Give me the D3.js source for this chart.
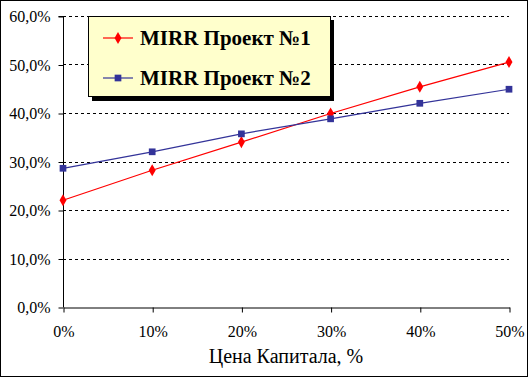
<!DOCTYPE html>
<html>
<head>
<meta charset="utf-8">
<script src="https://cdn.jsdelivr.net/npm/d3@7"></script>
</head>
<body style="margin:0">
<script>
// chart data
const categories = ["0%", "10%", "20%", "30%", "40%", "50%"];
const project1 = [22.0, 28.2, 34.0, 39.9, 45.4, 50.5];
const project2 = [28.6, 32.0, 35.7, 38.8, 42.0, 44.9];
const yTicks = [0, 10, 20, 30, 40, 50, 60];
const seriesNames = ["MIRR Проект №1", "MIRR Проект №2"];
const xTitle = "Цена Капитала, %";

const width = 528, height = 377;
const margin = {top: 16, bottom: 70, left: 63, right: 19};
const FONT = '"Times New Roman"';

const svg = d3.select("body").append("svg")
  .attr("width", width)
  .attr("height", height);

// outer frame
svg.append("rect")
  .attr("x", 0.5).attr("y", 0.5)
  .attr("width", width - 1).attr("height", height - 1)
  .attr("fill", "#fff").attr("stroke", "#000");

const xScale = d3.scalePoint().domain(categories).range([margin.left, width - margin.right]);
const yScale = d3.scaleLinear().domain([0, 60]).range([height - margin.bottom, margin.top]);

// dashed gridlines
svg.append("g")
  .selectAll("line")
  .data(yTicks.filter(d => d > 0))
  .join("line")
  .attr("x1", margin.left)
  .attr("x2", width - margin.right)
  .attr("y1", d => Math.round(yScale(d)) + 0.5)
  .attr("y2", d => Math.round(yScale(d)) + 0.5)
  .attr("stroke", "#000")
  .attr("stroke-dasharray", "3,3");

// y axis
const yAxis = d3.axisLeft(yScale).tickValues(yTicks).tickSize(5).tickPadding(8)
  .tickFormat(d => d.toFixed(1).replace(".", ",") + "%");
const gy = svg.append("g")
  .attr("transform", `translate(${margin.left + 0.5},0.5)`)
  .call(yAxis);
gy.select(".domain").attr("stroke", "#000").attr("d", `M-5,${yScale(60)}H0V${yScale(0)}`);
gy.selectAll("text").style("font-family", FONT).style("font-size", "16px").attr("fill", "#000");

// x axis
const xAxis = d3.axisBottom(xScale).tickSize(5).tickPadding(13).tickSizeOuter(0);
const gx = svg.append("g")
  .attr("transform", `translate(0.5,${Math.round(yScale(0)) + 0.5})`)
  .call(xAxis);
gx.select(".domain").attr("stroke", "#000");
gx.selectAll("text").style("font-family", FONT).style("font-size", "16px").attr("fill", "#000");

svg.append("text")
  .attr("x", (margin.left + width - margin.right) / 2)
  .attr("y", 363)
  .attr("text-anchor", "middle")
  .style("font-family", FONT)
  .style("font-size", "20px")
  .text(xTitle);

// lines + markers
const line = d3.line()
  .x((d, i) => xScale(categories[i]))
  .y(d => yScale(d));

const series = [
  {values: project1, color: "#ff0000", shape: d3.symbolDiamond, size: 42},
  {values: project2, color: "#333399", shape: d3.symbolSquare, size: 45}
];

for (const s of series) {
  svg.append("path")
    .datum(s.values)
    .attr("fill", "none")
    .attr("stroke", s.color)
    .attr("stroke-width", 1.2)
    .attr("d", line);
  svg.append("g")
    .selectAll("path")
    .data(s.values)
    .join("path")
    .attr("transform", (d, i) => `translate(${xScale(categories[i])},${yScale(d)})`)
    .attr("d", d3.symbol().type(s.shape).size(s.size))
    .attr("fill", s.color);
}

// legend
const lg = svg.append("g").attr("transform", "translate(88,16)");
lg.append("rect").attr("x", 4).attr("y", 4).attr("width", 242).attr("height", 81).attr("fill", "#000");
lg.append("rect").attr("x", 0.5).attr("y", 0.5).attr("width", 242).attr("height", 80)
  .attr("fill", "#ffffcc").attr("stroke", "#000");

series.forEach((s, i) => {
  const y = 22 + i * 40;
  lg.append("line").attr("x1", 15).attr("x2", 45).attr("y1", y).attr("y2", y)
    .attr("stroke", s.color).attr("stroke-width", 1.2);
  lg.append("path").attr("transform", `translate(30,${y})`)
    .attr("d", d3.symbol().type(s.shape).size(s.size)).attr("fill", s.color);
  lg.append("text").attr("x", 52).attr("y", y + 7)
    .style("font-family", FONT)
    .style("font-size", "21px").style("font-weight", "bold")
    .text(seriesNames[i]);
});
</script>
</body>
</html>
